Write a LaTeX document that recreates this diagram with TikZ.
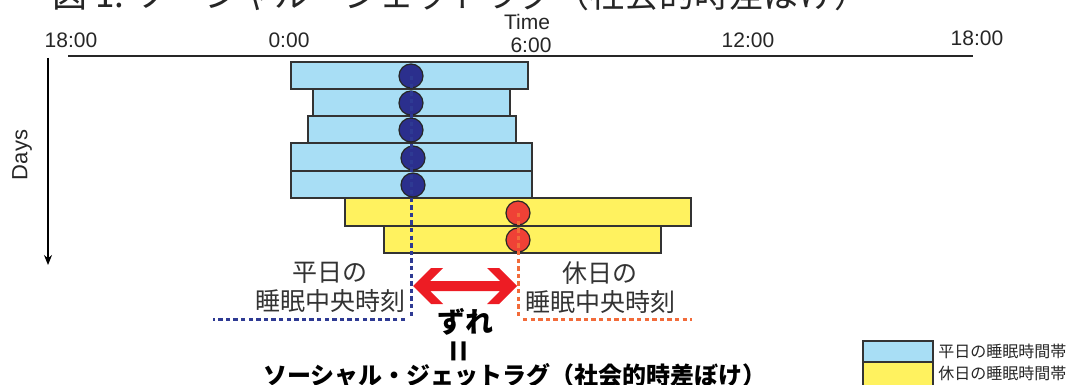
\documentclass[tikz,border=0pt]{standalone}
\usepackage{fontspec}
\setmainfont{Liberation Sans}
\newfontfamily\jp{Noto Sans CJK JP}
\usetikzlibrary{arrows.meta,positioning}
\definecolor{wdfill}{HTML}{A8DEF5}
\definecolor{hdfill}{HTML}{FFF25F}
\definecolor{wdmark}{HTML}{2B2F8D}
\definecolor{hdmark}{HTML}{EF4136}
\definecolor{wdline}{HTML}{2E3A93}
\definecolor{hdline}{HTML}{F26B3A}
\definecolor{lagred}{HTML}{ED1C24}

\begin{document}
\begin{tikzpicture}[x=0.5pt,y=-0.5pt,>={Stealth[length=5pt,width=4pt]}]
  \tikzstyle{tick}=[font=\fontsize{10.5}{12}\selectfont,text=black!85]
  \tikzstyle{weekday}=[draw=black!80,fill=wdfill,line width=0.7pt]
  \tikzstyle{holiday}=[draw=black!80,fill=hdfill,line width=0.7pt]
  \tikzstyle{wdmid}=[circle,draw=black!85,fill=wdmark,minimum size=12pt,inner sep=0pt,line width=0.6pt]
  \tikzstyle{hdmid}=[circle,draw=black!85,fill=hdmark,minimum size=12pt,inner sep=0pt,line width=0.6pt]
  \tikzstyle{midline}=[line width=1.5pt,dash pattern=on 2.2pt off 1.6pt]
  \tikzstyle{midlabel}=[font=\jp\fontsize{12.5}{15}\selectfont,text=black!80,inner sep=0pt]
  \tikzstyle{legend}=[font=\jp\fontsize{8}{10}\selectfont,text=black!85,inner sep=0pt,anchor=west]

  \useasboundingbox (0,0) rectangle (1072,385);

  % title, cut at the top edge
  \node[anchor=base west,inner sep=0pt,text=black!85,
        font=\jp\fontsize{17.5}{20}\selectfont] (title) at (52,8)
        {図 1. ソーシャル・ジェットラグ（社会的時差ぼけ）};

  % axes
  \coordinate (tl) at (68,56);
  \coordinate (tr) at (973,56);
  \draw[line width=0.75pt,black!85] (tl) -- (tr);
  \coordinate (dtop) at (48,58);
  \coordinate (dbot) at (48,265);
  \draw[->,line width=0.6pt] (dtop) -- (dbot);

  \node[tick] (time) at (527,22) {Time};
  \node[tick] (t18a) at (71,40) {18:00};
  \node[tick] (t0)   at (289,40) {0:00};
  \node[tick] (t6)   at (531,45) {6:00};
  \node[tick] (t12)  at (748,40) {12:00};
  \node[tick] (t18b) at (977,38) {18:00};
  \node[tick,rotate=90,font=\fontsize{11}{12}\selectfont] (days) at (22,155) {Days};

  % sleep bands
  \draw[weekday] (291,62)  rectangle (528,89);
  \draw[weekday] (313,89)  rectangle (510,116);
  \draw[weekday] (308,116) rectangle (516,143);
  \draw[weekday] (291,143) rectangle (532,171);
  \draw[weekday] (291,171) rectangle (532,198);
  \draw[holiday] (345,198) rectangle (691,226);
  \draw[holiday] (384,226) rectangle (661,253);

  % mid-sleep points
  \node[wdmid] (w1) at (411,76)  {};
  \node[wdmid] (w2) at (411,103) {};
  \node[wdmid] (w3) at (411,130) {};
  \node[wdmid] (w4) at (413,158) {};
  \node[wdmid] (w5) at (413,185) {};
  \node[hdmid] (h1) at (518,213) {};
  \node[hdmid] (h2) at (518,240) {};

  \coordinate (wdown) at (412,316);
  \coordinate (wcorner) at (405,319);
  \coordinate (wend) at (213,319);
  \coordinate (hdown) at (518,316);
  \coordinate (hcorner) at (523,319);
  \coordinate (hend) at (692,319);
  \draw[midline,wdline] (w1.center) -- (w1.center |- wdown);
  \draw[midline,wdline] (wcorner) -- (wend);
  \draw[midline,hdline] (h1.center) -- (hdown);
  \draw[midline,hdline] (hcorner) -- (hend);

  % lag arrow
  \coordinate (lagL) at (413,286);
  \coordinate (lagR) at (517,286);
  \fill[lagred] (lagL) -- ++(18,-18) -- ++(12,0) -- ++(-13,13) -- ++(70,0)
    -- ++(-13,-13) -- ++(12,0) -- (lagR) -- ++(-18,18) -- ++(-12,0)
    -- ++(13,-13) -- ++(-70,0) -- ++(13,13) -- ++(-12,0) -- cycle;

  % labels
  \node[midlabel] (wd1) at (330,273) {平日の};
  \node[midlabel,below=2.5pt of wd1.south,anchor=north] (wd2) {睡眠中央時刻};
  \node[midlabel] (hd1) at (600,273) {休日の};
  \node[midlabel,below=2.5pt of hd1.south,anchor=north] (hd2) {睡眠中央時刻};

  \node[font=\jp\bfseries\fontsize{14}{16}\selectfont,inner sep=0pt] (zure) at (465,322) {ずれ};
  \node[font=\bfseries\fontsize{19}{20}\selectfont,rotate=90,inner sep=0pt] (eq) at (462,351) {=};
  \node[font=\jp\bfseries\fontsize{12}{14}\selectfont,inner sep=0pt] (sjl) at (515,375)
        {ソーシャル・ジェットラグ（社会的時差ぼけ）};

  % legend
  \draw[weekday] (863,341) rectangle (933,362);
  \draw[holiday] (863,362) rectangle (933,395);
  \node[legend] (lg1) at (938,351) {平日の睡眠時間帯};
  \node[legend] (lg2) at (938,373) {休日の睡眠時間帯};
\end{tikzpicture}
\end{document}
